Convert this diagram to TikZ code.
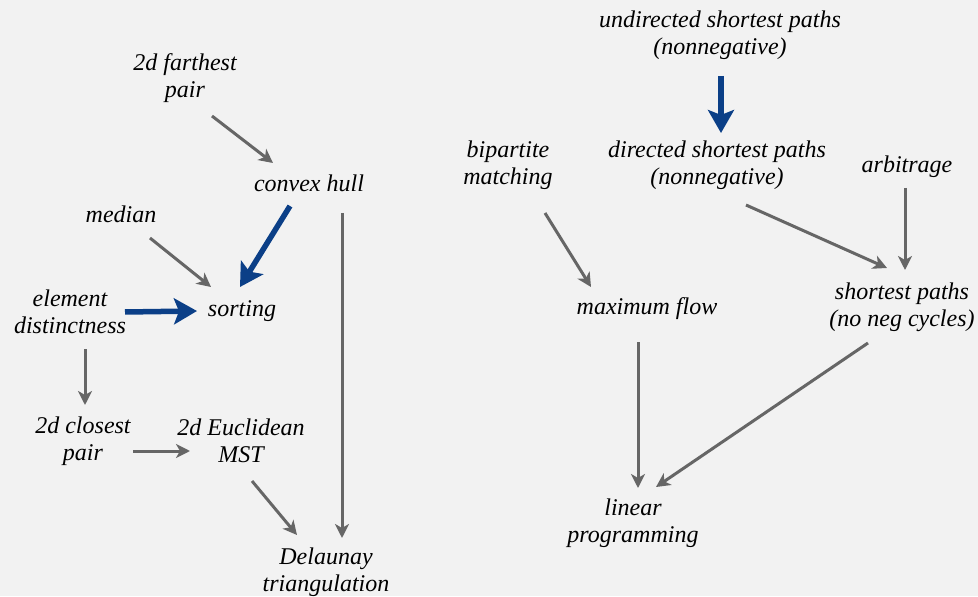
\documentclass[tikz,border=0pt]{standalone}
\usepackage{fontspec}
\setmainfont{Liberation Serif}
\usepackage{xcolor}
\usetikzlibrary{arrows.meta}
\definecolor{bgcol}{HTML}{F2F2F2}
\definecolor{linkgray}{HTML}{666666}
\definecolor{linkblue}{HTML}{0B3F87}

\begin{document}
\begin{tikzpicture}[
	x=1pt, y=-1pt,
	prob/.style={align=center,inner sep=0pt,font=\fontsize{24}{27}\selectfont\itshape},
	graylink/.style={draw=linkgray,line width=3pt,-{Stealth[length=14pt,width=14pt,inset=4pt]}},
	bluelink/.style={draw=linkblue,line width=5.5pt,-{Stealth[length=23pt,width=26pt,inset=5pt]}}
]
	\fill[bgcol] (0,0) rectangle (978,596);
	\node[prob] (fp)   at (185,78)  {2d farthest\\pair};
	\node[prob] (hull) at (309,183) {convex hull};
	\node[prob] (med)  at (121,214) {median};
	\node[prob] (sort) at (242,311) {sorting};
	\node[prob] (ed)   at (70,312)  {element\\distinctness};
	\node[prob] (cp)   at (83,441)  {2d closest\\pair};
	\node[prob] (mst)  at (241,441) {2d Euclidean\\MST};
	\node[prob] (dl)   at (326,572) {Delaunay\\triangulation};
	\node[prob] (usp)  at (720,35)  {undirected shortest paths\\(nonnegative)};
	\node[prob] (bm)   at (508,165) {bipartite\\matching};
	\node[prob] (dsp)  at (717,165) {directed shortest paths\\(nonnegative)};
	\node[prob] (arb)  at (907,167) {arbitrage};
	\node[prob] (mf)   at (647,309) {maximum flow};
	\node[prob] (sp)   at (902,307) {shortest paths\\(no neg cycles)};
	\node[prob] (lp)   at (633,523) {linear\\programming};
	% left group
	\draw[graylink] ([shift={(27,38)}]fp.center) -- ([shift={(-36,-20)}]hull.center);
	\draw[graylink] ([shift={(29,24)}]med.center) -- ([shift={(-31,-24)}]sort.center);
	\draw[bluelink] ([shift={(-19,23)}]hull.center) -- ([shift={(-2,-24)}]sort.center);
	\draw[bluelink] ([shift={(55,0)}]ed.center) -- ([shift={(-45,0)}]sort.center);
	\draw[graylink] ([shift={(33,30)}]hull.center) -- ([shift={(16,-34)}]dl.center);
	\draw[graylink] ([shift={(15,37)}]ed.center) -- ([shift={(2,-36)}]cp.center);
	\draw[graylink] ([shift={(50,10)}]cp.center) -- ([shift={(-51,10)}]mst.center);
	\draw[graylink] ([shift={(11,40)}]mst.center) -- ([shift={(-29,-37)}]dl.center);
	% right group
	\draw[bluelink] ([shift={(1,41)}]usp.center) -- ([shift={(4,-32)}]dsp.center);
	\draw[graylink] ([shift={(37,48)}]bm.center) -- ([shift={(-56,-22)}]mf.center);
	\draw[graylink] ([shift={(29,40)}]dsp.center) -- ([shift={(-15,-39)}]sp.center);
	\draw[graylink] ([shift={(-2,21)}]arb.center) -- ([shift={(3,-37)}]sp.center);
	\draw[graylink] ([shift={(-9,33)}]mf.center) -- ([shift={(5,-35)}]lp.center);
	\draw[graylink] ([shift={(-34,36)}]sp.center) -- ([shift={(23,-36)}]lp.center);
\end{tikzpicture}
\end{document}
